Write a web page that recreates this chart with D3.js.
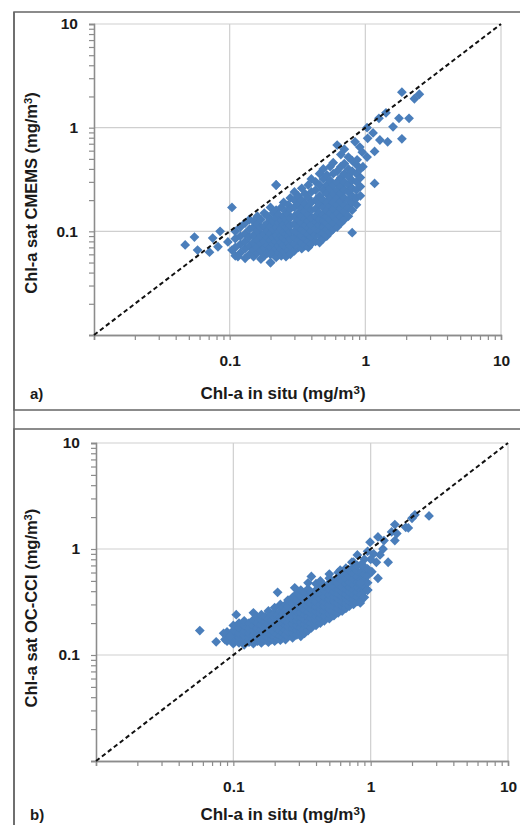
<!DOCTYPE html>
<html>
<head>
<meta charset="utf-8">
<script src="https://cdn.jsdelivr.net/npm/d3@7"></script>
<style>
  body { margin: 0; background: #fff; }
  svg { display: block; font-family: "Liberation Sans", Arial, sans-serif; }
</style>
</head>
<body>
<div id="chart"></div>
<script>

// tick values / labels
const majorTicks = [0.01, 0.1, 1, 10];
const xTickLabels = ["", "0.1", "1", "10"];
const yTickLabels = ["", "0.1", "1", "10"];
const minorTicks = [2,3,4,5,6,7,8,9].flatMap(m => [0.01, 0.1, 1].map(d => m * d));

// panel a: in situ vs CMEMS, grouped by in situ value -> satellite values
const cmemsCols = [
  [0.11, [0.058, 0.07, 0.085, 0.1]],
  [0.12, [0.062, 0.075, 0.09, 0.11]],
  [0.13, [0.055, 0.068, 0.08, 0.095, 0.12]],
  [0.14, [0.06, 0.072, 0.088, 0.105, 0.13]],
  [0.15, [0.057, 0.066, 0.078, 0.092, 0.11, 0.125]],
  [0.16, [0.062, 0.07, 0.083, 0.1, 0.118, 0.14]],
  [0.17, [0.054, 0.065, 0.076, 0.09, 0.108, 0.13]],
  [0.18, [0.058, 0.069, 0.08, 0.095, 0.112, 0.15]],
  [0.19, [0.062, 0.073, 0.086, 0.1, 0.12, 0.14]],
  [0.2,  [0.05, 0.06, 0.07, 0.082, 0.094, 0.11, 0.13, 0.17]],
  [0.21, [0.064, 0.076, 0.088, 0.104, 0.125, 0.15]],
  [0.22, [0.056, 0.068, 0.08, 0.092, 0.11, 0.135, 0.16, 0.28]],
  [0.23, [0.062, 0.072, 0.085, 0.1, 0.12, 0.145]],
  [0.24, [0.058, 0.067, 0.078, 0.09, 0.106, 0.128, 0.17]],
  [0.25, [0.064, 0.074, 0.086, 0.098, 0.115, 0.14, 0.19]],
  [0.26, [0.057, 0.07, 0.082, 0.094, 0.11, 0.13, 0.155]],
  [0.27, [0.066, 0.077, 0.09, 0.104, 0.12, 0.145, 0.18]],
  [0.28, [0.06, 0.072, 0.085, 0.098, 0.114, 0.135, 0.165, 0.21]],
  [0.3,  [0.065, 0.076, 0.088, 0.1, 0.118, 0.14, 0.17, 0.2, 0.24]],
  [0.32, [0.07, 0.082, 0.095, 0.11, 0.128, 0.15, 0.18, 0.22]],
  [0.34, [0.068, 0.078, 0.09, 0.104, 0.12, 0.14, 0.165, 0.2, 0.26]],
  [0.36, [0.073, 0.085, 0.098, 0.115, 0.132, 0.155, 0.185, 0.23]],
  [0.38, [0.07, 0.08, 0.093, 0.108, 0.125, 0.145, 0.17, 0.21, 0.28]],
  [0.4,  [0.076, 0.088, 0.1, 0.116, 0.135, 0.16, 0.19, 0.24, 0.32]],
  [0.43, [0.08, 0.092, 0.106, 0.122, 0.14, 0.165, 0.2, 0.25, 0.3]],
  [0.46, [0.078, 0.09, 0.1, 0.115, 0.13, 0.15, 0.18, 0.22, 0.28, 0.36]],
  [0.49, [0.085, 0.097, 0.11, 0.126, 0.145, 0.17, 0.2, 0.25, 0.32, 0.4]],
  [0.52, [0.09, 0.104, 0.12, 0.138, 0.16, 0.19, 0.23, 0.28, 0.35]],
  [0.55, [0.098, 0.112, 0.13, 0.15, 0.175, 0.21, 0.26, 0.31, 0.42]],
  [0.58, [0.105, 0.12, 0.14, 0.165, 0.19, 0.23, 0.28, 0.36, 0.46]],
  [0.62, [0.11, 0.13, 0.15, 0.18, 0.21, 0.25, 0.3, 0.38]],
  [0.66, [0.12, 0.14, 0.165, 0.195, 0.23, 0.27, 0.33, 0.42, 0.55]],
  [0.7,  [0.13, 0.155, 0.18, 0.21, 0.25, 0.3, 0.36, 0.45]],
  [0.75, [0.14, 0.17, 0.2, 0.24, 0.28, 0.34, 0.4]],
  [0.8,  [0.097, 0.16, 0.19, 0.22, 0.26, 0.31, 0.38, 0.48]],
  [0.86, [0.18, 0.21, 0.25, 0.3, 0.36, 0.44]],
  [0.92, [0.22, 0.27, 0.33, 0.4]]
];
const cmemsExtra = [
  [0.047, 0.074], [0.055, 0.088], [0.058, 0.066], [0.071, 0.063], [0.075, 0.086],
  [0.082, 0.071], [0.085, 0.1], [0.097, 0.079], [0.104, 0.066], [0.104, 0.17],
  [0.115, 0.057], [0.2, 0.05], [0.22, 0.28], [0.96, 0.42],
  [0.62, 0.68], [0.84, 0.73], [0.91, 0.65], [0.87, 0.49], [1.03, 0.52], [1.17, 0.59],
  [1.03, 1.0], [1.14, 0.89], [1.04, 0.79], [1.28, 0.76], [1.46, 0.73], [1.86, 0.78],
  [1.17, 0.29], [1.42, 1.39], [1.26, 1.23], [1.77, 1.23], [2.1, 1.23], [1.6, 1.02],
  [1.86, 2.2], [2.3, 1.9], [2.5, 2.1], [0.75, 0.52], [0.7, 0.62], [0.95, 0.58]
];

// panel b: in situ vs OC-CCI
const occciCols = [
  [0.09, [0.135, 0.15, 0.165]],
  [0.1,  [0.128, 0.14, 0.155, 0.17, 0.19]],
  [0.11, [0.13, 0.145, 0.16, 0.18, 0.2]],
  [0.12, [0.125, 0.138, 0.152, 0.168, 0.19, 0.21]],
  [0.13, [0.132, 0.146, 0.16, 0.178, 0.2]],
  [0.14, [0.128, 0.14, 0.155, 0.172, 0.19, 0.215, 0.25]],
  [0.15, [0.135, 0.148, 0.163, 0.18, 0.2, 0.225]],
  [0.16, [0.13, 0.142, 0.157, 0.174, 0.192, 0.215, 0.24]],
  [0.17, [0.138, 0.152, 0.167, 0.185, 0.205, 0.23]],
  [0.18, [0.132, 0.145, 0.16, 0.178, 0.198, 0.22, 0.26]],
  [0.19, [0.14, 0.155, 0.172, 0.19, 0.212, 0.24]],
  [0.2,  [0.135, 0.148, 0.164, 0.182, 0.2, 0.225, 0.25, 0.28]],
  [0.21, [0.143, 0.158, 0.175, 0.195, 0.215, 0.24, 0.39]],
  [0.22, [0.138, 0.152, 0.168, 0.186, 0.206, 0.23, 0.26, 0.3]],
  [0.23, [0.146, 0.162, 0.18, 0.2, 0.22, 0.245, 0.28]],
  [0.24, [0.14, 0.155, 0.172, 0.19, 0.21, 0.235, 0.265, 0.3]],
  [0.25, [0.15, 0.166, 0.184, 0.204, 0.226, 0.25, 0.285, 0.33]],
  [0.27, [0.145, 0.16, 0.178, 0.197, 0.218, 0.24, 0.27, 0.31, 0.35]],
  [0.29, [0.155, 0.17, 0.19, 0.21, 0.232, 0.258, 0.29, 0.33, 0.38]],
  [0.31, [0.15, 0.165, 0.183, 0.203, 0.225, 0.25, 0.28, 0.32, 0.36, 0.41]],
  [0.33, [0.16, 0.176, 0.195, 0.216, 0.24, 0.267, 0.3, 0.34, 0.39]],
  [0.35, [0.17, 0.188, 0.208, 0.23, 0.255, 0.285, 0.32, 0.36, 0.42, 0.48]],
  [0.37, [0.18, 0.2, 0.222, 0.246, 0.273, 0.305, 0.34, 0.39, 0.55]],
  [0.4,  [0.19, 0.21, 0.233, 0.258, 0.286, 0.32, 0.36, 0.41, 0.47]],
  [0.43, [0.2, 0.222, 0.246, 0.272, 0.3, 0.335, 0.375, 0.43, 0.5]],
  [0.46, [0.21, 0.234, 0.26, 0.288, 0.32, 0.355, 0.4, 0.45]],
  [0.5,  [0.22, 0.245, 0.272, 0.3, 0.335, 0.37, 0.42, 0.48, 0.53, 0.58]],
  [0.54, [0.235, 0.26, 0.29, 0.32, 0.355, 0.395, 0.44, 0.5]],
  [0.58, [0.25, 0.275, 0.305, 0.34, 0.375, 0.42, 0.47, 0.54, 0.6]],
  [0.62, [0.26, 0.29, 0.32, 0.355, 0.395, 0.44, 0.5, 0.57]],
  [0.66, [0.275, 0.305, 0.34, 0.375, 0.42, 0.47, 0.53, 0.6, 0.66]],
  [0.7,  [0.29, 0.32, 0.355, 0.395, 0.44, 0.49, 0.55, 0.63]],
  [0.75, [0.3, 0.335, 0.37, 0.41, 0.46, 0.52, 0.58, 0.67, 0.75]],
  [0.8,  [0.32, 0.355, 0.395, 0.44, 0.49, 0.55, 0.62, 0.7, 0.88]],
  [0.85, [0.33, 0.37, 0.41, 0.46, 0.52, 0.6, 0.71]],
  [0.9,  [0.35, 0.4, 0.45, 0.5, 0.58, 0.66, 0.8]],
  [0.95, [0.41, 0.48, 0.56, 0.65]]
];
const occciExtra = [
  [0.057, 0.17], [0.075, 0.133], [0.087, 0.14], [0.085, 0.16], [0.095, 0.15], [0.105, 0.24],
  [0.28, 0.43], [0.99, 1.16], [1.02, 0.61], [1.13, 0.53], [1.13, 1.3], [1.17, 0.88],
  [1.23, 1.0], [1.34, 0.75], [1.42, 1.45], [1.5, 1.7], [1.5, 1.2], [1.88, 1.58],
  [2.0, 1.95], [2.1, 2.1], [2.66, 2.05], [0.87, 0.71], [0.73, 0.75], [0.6, 0.63],
  [0.84, 0.31], [0.95, 0.41], [0.84, 0.48], [1.05, 0.9], [1.1, 0.75], [0.95, 0.95],
  [1.0, 0.8], [1.25, 1.2], [1.55, 1.4], [1.8, 1.6]
];

const flatten = (cols, extra) =>
  cols.flatMap(c => c[1].map(v => [c[0], v])).concat(extra);

const panels = [
  { data: flatten(cmemsCols, cmemsExtra), ytitle: "Chl-a sat CMEMS (mg/m", tag: "a)",
    xr: [94, 501], yr: [335, 24], titleY: 399, ytitleX: 37, ytitleY: 193, frameTop: 12, frameBottom: 410 },
  { data: flatten(occciCols, occciExtra), ytitle: "Chl-a sat OC-CCI (mg/m", tag: "b)",
    xr: [96, 508], yr: [761, 443], titleY: 820, ytitleX: 37, ytitleY: 608, frameTop: 429, frameBottom: 900 }
];

const W = 520, H = 825;
const svg = d3.select("#chart").append("svg")
  .attr("width", W)
  .attr("height", H);

const blue = "#4a7ebb";
const ink = "#1a1a1a";
const diamond = d3.symbol().type(d3.symbolSquare).size(48);

// text with a superscript 3 then closing paren
function unitText(sel, main) {
  sel.append("tspan").text(main);
  sel.append("tspan").attr("dy", "-0.45em").attr("font-size", "0.68em").text("3");
  sel.append("tspan").attr("dy", "0.31em").text(")");
}

panels.forEach(p => {
  // outer frame
  svg.append("rect")
    .attr("x", 14).attr("y", p.frameTop)
    .attr("width", 540).attr("height", p.frameBottom - p.frameTop)
    .attr("fill", "none").attr("stroke", "#666").attr("stroke-width", 1.5);

  const x = d3.scaleLog().domain([0.01, 10]).range(p.xr);
  const y = d3.scaleLog().domain([0.01, 10]).range(p.yr);

  const g = svg.append("g");

  // grid
  g.selectAll(".vg").data([0.1, 1, 10]).enter().append("line")
    .attr("x1", d => x(d)).attr("x2", d => x(d))
    .attr("y1", y(0.01)).attr("y2", y(10))
    .attr("stroke", "#cfcfcf").attr("stroke-width", 1.2);
  g.selectAll(".hg").data([0.1, 1, 10]).enter().append("line")
    .attr("x1", x(0.01)).attr("x2", x(10))
    .attr("y1", d => y(d)).attr("y2", d => y(d))
    .attr("stroke", "#cfcfcf").attr("stroke-width", 1.2);

  // axes: minor ticks
  const xMinor = g.append("g")
    .attr("transform", "translate(0," + y(0.01) + ")")
    .call(d3.axisBottom(x).tickValues(minorTicks).tickSize(5).tickFormat(""));
  const yMinor = g.append("g")
    .attr("transform", "translate(" + x(0.01) + ",0)")
    .call(d3.axisLeft(y).tickValues(minorTicks).tickSize(5).tickFormat(""));

  const xAxis = g.append("g")
    .attr("transform", "translate(0," + y(0.01) + ")")
    .call(d3.axisBottom(x).tickValues(majorTicks).tickSize(5).tickPadding(15)
      .tickFormat((d, i) => xTickLabels[i]));
  const yAxis = g.append("g")
    .attr("transform", "translate(" + x(0.01) + ",0)")
    .call(d3.axisLeft(y).tickValues(majorTicks).tickSize(5).tickPadding(11)
      .tickFormat((d, i) => yTickLabels[i]));

  [xMinor, yMinor, xAxis, yAxis].forEach(a => {
    a.select(".domain").attr("stroke", "#8c8c8c").attr("stroke-width", 1.3);
    a.selectAll(".tick line").attr("stroke", "#8c8c8c").attr("stroke-width", 1.2);
  });
  [xAxis, yAxis].forEach(a => {
    a.selectAll("text")
      .attr("fill", ink)
      .style("font-size", "15.5px")
      .style("font-weight", "bold")
      .style("font-family", "'Liberation Sans', Arial, sans-serif");
  });

  // points
  g.selectAll(".pt").data(p.data).enter().append("path")
    .attr("class", "pt")
    .attr("d", diamond)
    .attr("transform", d => "translate(" + x(d[0]) + "," + y(d[1]) + ") rotate(45)")
    .attr("fill", blue);

  // 1:1 line
  g.append("line")
    .attr("x1", x(0.01)).attr("y1", y(0.01))
    .attr("x2", x(10)).attr("y2", y(10))
    .attr("stroke", "#111").attr("stroke-width", 2)
    .attr("stroke-dasharray", "4.5,3");

  // titles
  svg.append("text")
    .attr("x", 283).attr("y", p.titleY)
    .attr("text-anchor", "middle")
    .attr("font-size", "17px").attr("font-weight", "bold").attr("fill", ink)
    .call(unitText, "Chl-a in situ (mg/m");
  svg.append("text")
    .attr("x", 30).attr("y", p.titleY)
    .attr("font-size", "15px").attr("font-weight", "bold").attr("fill", ink)
    .text(p.tag);
  svg.append("text")
    .attr("transform", "translate(" + p.ytitleX + "," + p.ytitleY + ") rotate(-90)")
    .attr("text-anchor", "middle")
    .attr("font-size", "16.5px").attr("font-weight", "bold").attr("fill", ink)
    .call(unitText, p.ytitle);
});

// left border running down the whole figure
svg.append("line")
  .attr("x1", 14).attr("x2", 14).attr("y1", 12).attr("y2", H)
  .attr("stroke", "#666").attr("stroke-width", 1.5);

</script>
</body>
</html>
